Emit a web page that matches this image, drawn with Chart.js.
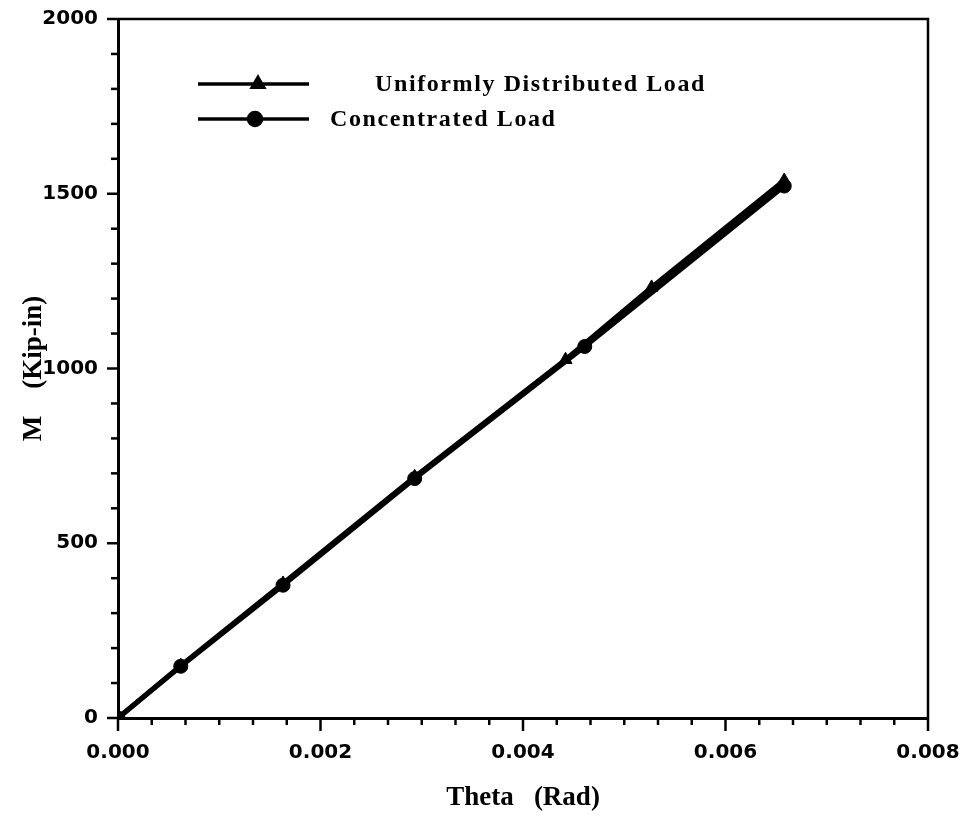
<!DOCTYPE html>
<html>
<head>
<meta charset="utf-8">
<script src="https://cdn.jsdelivr.net/npm/chart.js@4.4.0/dist/chart.umd.min.js"></script>
<style>
html,body{margin:0;padding:0;background:#fff;}
#wrap{width:969px;height:822px;position:relative;}
</style>
</head>
<body>
<div id="wrap"><canvas id="c" width="969" height="822"></canvas></div>
<script>
// ---- data ----
const udlTheta = [0, 0.00062, 0.00163, 0.00293, 0.00442, 0.00527, 0.00658];
const udlM     = [0, 150, 385, 690, 1025, 1232, 1538];
const clTheta  = [0, 0.00062, 0.00163, 0.00293, 0.00461, 0.00658];
const clM      = [0, 148, 380, 685, 1063, 1522];
const seriesLabels = ['Uniformly Distributed Load', 'Concentrated Load'];
const xMajorTicks = [0, 0.002, 0.004, 0.006, 0.008];
const yMajorTicks = [0, 500, 1000, 1500, 2000];
const xMinorStep = 0.002 / 6;
const yMinorStep = 100;

function pts(xs, ys){ return xs.map((x,i)=>({x:x, y:ys[i]})); }

const framePlugin = {
  id: 'frame',
  afterDraw(chart){
    const ctx = chart.ctx, a = chart.chartArea;
    const xs = chart.scales.x, ys = chart.scales.y;
    ctx.save();
    ctx.strokeStyle = '#000';
    ctx.lineCap = 'butt';
    ctx.lineWidth = 2.5;
    ctx.beginPath();
    ctx.moveTo(a.left, a.top); ctx.lineTo(a.right, a.top); ctx.lineTo(a.right, a.bottom);
    ctx.stroke();
    const nx = Math.round((xs.max - xs.min)/xMinorStep);
    for (let i=0;i<=nx;i++){
      const v = xs.min + i*xMinorStep;
      const px = xs.getPixelForValue(v);
      const major = i % 6 === 0;
      ctx.beginPath();
      ctx.moveTo(px, a.bottom); ctx.lineTo(px, a.bottom + (major ? 13 : 7));
      ctx.stroke();
    }
    const ny = Math.round((ys.max - ys.min)/yMinorStep);
    for (let i=0;i<=ny;i++){
      const v = ys.min + i*yMinorStep;
      const py = ys.getPixelForValue(v);
      const major = i % 5 === 0;
      ctx.beginPath();
      ctx.moveTo(a.left, py); ctx.lineTo(a.left - (major ? 11 : 7), py);
      ctx.stroke();
    }
    ctx.restore();
  }
};

const legendPlugin = {
  id: 'customLegend',
  afterDraw(chart){
    const ctx = chart.ctx;
    const ds = chart.data.datasets;
    const rows = [
      {y: 84, x0: 198, x1: 309, mx: 258, tx: 375},
      {y: 119, x0: 198, x1: 309, mx: 255, tx: 330}
    ];
    ctx.save();
    rows.forEach((r,i)=>{
      ctx.strokeStyle = '#000';
      ctx.lineWidth = 3.5;
      ctx.beginPath(); ctx.moveTo(r.x0, r.y); ctx.lineTo(r.x1, r.y); ctx.stroke();
      ctx.fillStyle = '#000';
      Chart.helpers.drawPoint(ctx, {pointStyle: ds[i].pointStyle, radius: 6.5, rotation: 0, borderWidth: 1}, r.mx, r.y);
      ctx.fill();
      ctx.font = 'bold 24px "Liberation Serif", "Times New Roman", serif';
      if ('letterSpacing' in ctx) ctx.letterSpacing = '1.6px';
      ctx.textBaseline = 'middle';
      ctx.textAlign = 'left';
      ctx.fillText(ds[i].label, r.tx, r.y + 1);
    });
    ctx.restore();
  }
};

new Chart(document.getElementById('c'), {
  type: 'scatter',
  data: {
    datasets: [
      {
        label: seriesLabels[0],
        data: pts(udlTheta, udlM),
        showLine: true,
        borderColor: '#000', backgroundColor: '#000',
        borderWidth: 5,
        pointStyle: 'triangle', pointRadius: 7.5, pointBorderWidth: 1,
        pointBackgroundColor: '#000', pointBorderColor: '#000'
      },
      {
        label: seriesLabels[1],
        data: pts(clTheta, clM),
        showLine: true,
        borderColor: '#000', backgroundColor: '#000',
        borderWidth: 5,
        pointStyle: 'circle', pointRadius: 7, pointBorderWidth: 1,
        pointBackgroundColor: '#000', pointBorderColor: '#000'
      }
    ]
  },
  options: {
    responsive: false,
    animation: false,
    devicePixelRatio: 1,
    layout: { padding: { left: 0, right: 41, top: 19, bottom: 0 } },
    plugins: { legend: { display: false }, tooltip: { enabled: false } },
    scales: {
      x: {
        type: 'linear', min: 0, max: 0.008,
        afterBuildTicks(scale){ scale.ticks = xMajorTicks.map(v=>({value:v})); },
        afterFit(scale){ scale.height = 104; scale.paddingLeft = 0; scale.paddingRight = 0; },
        grid: { display: false, drawTicks: false },
        border: { display: true, color: '#000', width: 3 },
        ticks: {
          color: '#000', padding: 23, maxRotation: 0, autoSkip: false,
          font: { family: '"DejaVu Sans", sans-serif', weight: 'bold', size: 20 },
          callback: v => Number(v).toFixed(3)
        },
        title: {
          display: true, text: 'Theta   (Rad)', color: '#000',
          font: { family: '"Liberation Serif", "Times New Roman", serif', weight: 'bold', size: 27 },
          padding: { top: 0, bottom: 8 }
        }
      },
      y: {
        type: 'linear', min: 0, max: 2000,
        afterBuildTicks(scale){ scale.ticks = yMajorTicks.map(v=>({value:v})); },
        afterFit(scale){ scale.width = 118; scale.paddingTop = 0; scale.paddingBottom = 0; },
        grid: { display: false, drawTicks: false },
        border: { display: true, color: '#000', width: 3 },
        ticks: {
          color: '#000', padding: 20, autoSkip: false,
          font: { family: '"DejaVu Sans", sans-serif', weight: 'bold', size: 20 },
          callback: v => String(v)
        },
        title: {
          display: true, text: 'M    (Kip-in)', color: '#000',
          font: { family: '"Liberation Serif", "Times New Roman", serif', weight: 'bold', size: 27 },
          padding: { top: 18, bottom: 0 }
        }
      }
    }
  },
  plugins: [framePlugin, legendPlugin]
});
</script>
</body>
</html>
